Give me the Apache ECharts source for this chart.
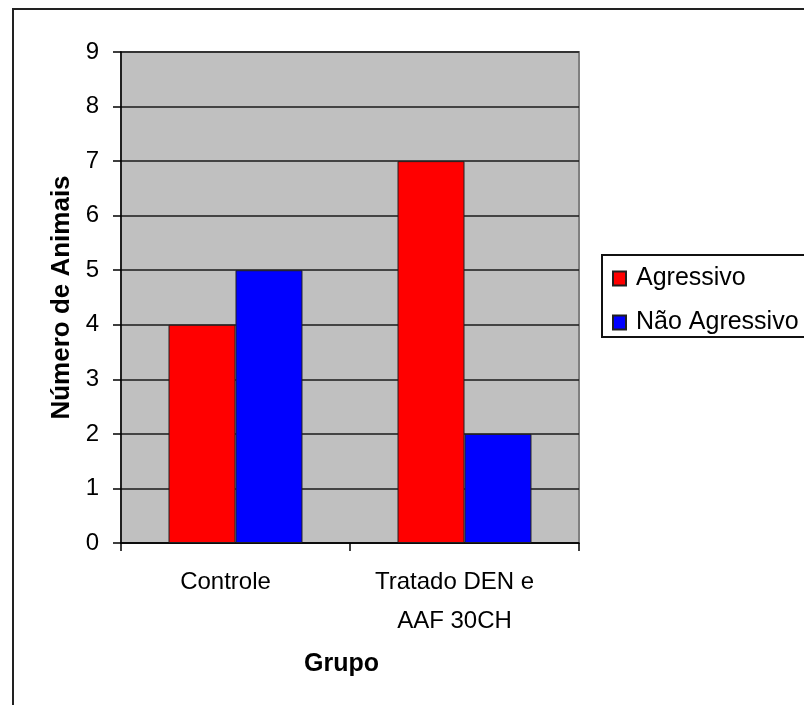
<!DOCTYPE html>
<html>
<head>
<meta charset="utf-8">
<title>Número de Animais por Grupo</title>
<script src="https://cdn.jsdelivr.net/npm/echarts@6/dist/echarts.min.js"></script>
<style>
  html, body { margin: 0; padding: 0; background: #fff; }
  #chart { width: 804px; height: 705px; }
</style>
</head>
<body>
<div id="chart"></div>
<script>
// Groups on the x axis
const categories = ['Controle', 'Tratado DEN e\nAAF 30CH'];
// Animal counts per behaviour
const agressivo = [4, 7];
const naoAgressivo = [5, 2];
// Y axis range
const yMin = 0;
const yMax = 9;
const yStep = 1;

const FONT = "'Liberation Sans', Arial, sans-serif";

const chart = echarts.init(document.getElementById('chart'), null, { renderer: 'canvas' });

chart.setOption({
  animation: false,
  backgroundColor: '#ffffff',
  textStyle: { fontFamily: FONT, color: '#000' },
  grid: {
    left: 121, right: 225, top: 52, bottom: 162,
    show: true,
    backgroundColor: '#c0c0c0',
    borderColor: '#808080',
    borderWidth: 2
  },
  legend: {
    orient: 'vertical',
    left: 607,
    top: 261,
    itemWidth: 13,
    itemHeight: 14,
    itemGap: 19,
    icon: 'rect',
    textStyle: { fontFamily: FONT, fontSize: 25, color: '#000', padding: [0, 0, 0, 5] },
    data: ['Agressivo', 'Não Agressivo']
  },
  xAxis: {
    type: 'category',
    data: categories,
    name: 'Grupo',
    nameLocation: 'middle',
    nameGap: 109,
    nameTextStyle: { fontFamily: FONT, fontSize: 25, fontWeight: 'bold', color: '#000', padding: [0, 17, 0, 0] },
    axisLine: { show: true, lineStyle: { color: '#000', width: 1.5 } },
    axisTick: { show: true, length: 8, alignWithLabel: false, lineStyle: { color: '#000', width: 1.5 } },
    axisLabel: { margin: 20, fontSize: 24, lineHeight: 39, color: '#000', fontFamily: FONT, padding: [0, 20, 0, 0] },
    splitLine: { show: false }
  },
  yAxis: {
    type: 'value',
    min: yMin,
    max: yMax,
    interval: yStep,
    name: 'Número de Animais',
    nameLocation: 'middle',
    nameRotate: 90,
    nameGap: 46,
    nameTextStyle: { fontFamily: FONT, fontSize: 26, fontWeight: 'bold', color: '#000' },
    axisLine: { show: true, lineStyle: { color: '#000', width: 1.5 } },
    axisTick: { show: true, length: 8, lineStyle: { color: '#000', width: 1.5 } },
    axisLabel: { margin: 22, fontSize: 24, color: '#000', fontFamily: FONT },
    splitLine: { show: true, lineStyle: { color: '#1a1a1a', width: 1.5 } }
  },
  series: [
    {
      name: 'Agressivo',
      type: 'bar',
      data: agressivo,
      barGap: '0%',
      barCategoryGap: '41.5%',
      itemStyle: { color: '#ff0000', borderColor: '#202020', borderWidth: 1 }
    },
    {
      name: 'Não Agressivo',
      type: 'bar',
      data: naoAgressivo,
      barGap: '0%',
      barCategoryGap: '41.5%',
      itemStyle: { color: '#0000ff', borderColor: '#202020', borderWidth: 1 }
    }
  ],
  graphic: [
    {
      // chart frame
      type: 'rect',
      silent: true,
      z: -1,
      shape: { x: 13, y: 9, width: 1000, height: 1000 },
      style: { fill: 'none', stroke: '#222', lineWidth: 2 }
    },
    {
      // legend frame
      type: 'rect',
      silent: true,
      shape: { x: 602, y: 255, width: 400, height: 82 },
      style: { fill: 'none', stroke: '#111', lineWidth: 2 }
    }
  ]
});
</script>
</body>
</html>
